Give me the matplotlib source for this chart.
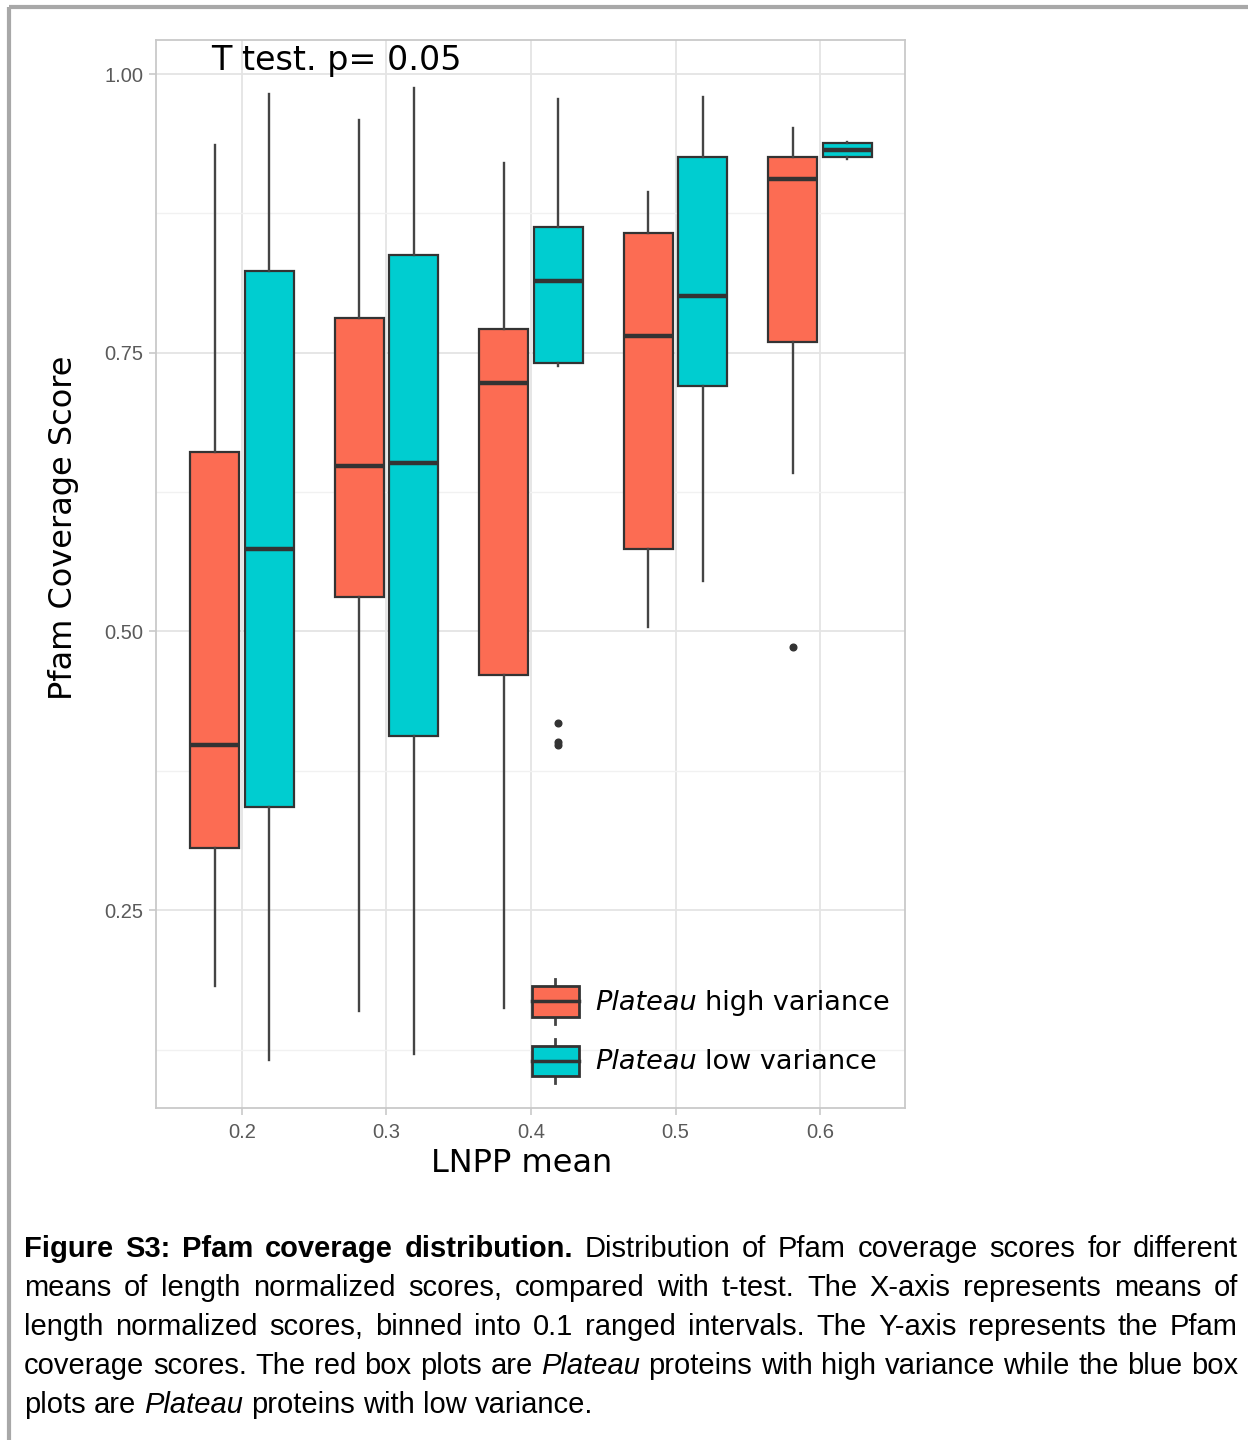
import matplotlib
matplotlib.use("Agg")
import matplotlib.pyplot as plt
from matplotlib.patches import Rectangle, Patch
from matplotlib.lines import Line2D
from matplotlib.legend_handler import HandlerBase
from matplotlib.ticker import FixedLocator

# ---------------- data ----------------
bins = [0.2, 0.3, 0.4, 0.5, 0.6]
tick_labels = ["0.2", "0.3", "0.4", "0.5", "0.6"]

high_whislo = [0.182, 0.160, 0.162, 0.504, 0.642]
high_q1     = [0.306, 0.531, 0.461, 0.574, 0.760]
high_med    = [0.398, 0.648, 0.723, 0.765, 0.906]
high_q3     = [0.661, 0.781, 0.771, 0.857, 0.926]
high_whishi = [0.936, 0.959, 0.920, 0.894, 0.952]
high_fliers = [[], [], [], [], [0.486]]

low_whislo = [0.116, 0.121, 0.738, 0.545, 0.924]
low_q1     = [0.343, 0.406, 0.741, 0.720, 0.926]
low_med    = [0.574, 0.651, 0.814, 0.801, 0.932]
low_q3     = [0.823, 0.838, 0.863, 0.926, 0.938]
low_whishi = [0.982, 0.987, 0.978, 0.979, 0.939]
low_fliers = [[], [], [0.418, 0.401, 0.398], [], []]

series_names = ["Plateau high variance", "Plateau low variance"]
title_text = "T test. p= 0.05"
xlabel_text = "LNPP mean"
ylabel_text = "Pfam Coverage Score"

RED = "#FC6C53"
BLUE = "#00CDD0"
EDGE = "#333333"

# ---------------- figure ----------------
W, H = 1248, 1440
fig = plt.figure(figsize=(W / 100, H / 100), dpi=100)
fig.patch.set_facecolor("white")

ax = fig.add_axes([156 / W, 1 - 1108 / H, 749 / W, 1068 / H])
ax.set_xlim(0.1405, 0.6588)
ax.set_ylim(0.0726, 1.0305)

def stats(whislo, q1, med, q3, whishi, fliers):
    out = []
    for a, b, c, d, e, f in zip(whislo, q1, med, q3, whishi, fliers):
        out.append(dict(whislo=a, q1=b, med=c, q3=d, whishi=e, fliers=f))
    return out

off = 0.0188
bw = 0.034
common = dict(widths=bw, patch_artist=True, showcaps=False, manage_ticks=False,
              medianprops=dict(color=EDGE, lw=3.2, solid_capstyle="butt"),
              whiskerprops=dict(color="#444444", lw=1.7),
              flierprops=dict(marker="o", markersize=4.8, markerfacecolor=EDGE,
                              markeredgecolor=EDGE, linestyle="none"))

ax.bxp(stats(high_whislo, high_q1, high_med, high_q3, high_whishi, high_fliers),
       positions=[b - off for b in bins],
       boxprops=dict(facecolor=RED, edgecolor=EDGE, lw=1.6), **common)
ax.bxp(stats(low_whislo, low_q1, low_med, low_q3, low_whishi, low_fliers),
       positions=[b + off for b in bins],
       boxprops=dict(facecolor=BLUE, edgecolor=EDGE, lw=1.6), **common)

# grid / theme_light look
ax.set_xticks(bins)
ax.set_xticklabels(tick_labels)
ax.yaxis.set_major_locator(FixedLocator([0.25, 0.50, 0.75, 1.00]))
ax.set_yticklabels(["0.25", "0.50", "0.75", "1.00"])
ax.yaxis.set_minor_locator(FixedLocator([0.125, 0.375, 0.625, 0.875]))
ax.grid(True, which="major", color="#E4E4E4", lw=1.3, zorder=0)
ax.grid(True, which="minor", axis="y", color="#F1F1F1", lw=1.0, zorder=0)
ax.set_axisbelow(True)
for s in ax.spines.values():
    s.set_color("#C9C9C9")
    s.set_linewidth(1.3)
ax.tick_params(axis="both", which="major", color="#C9C9C9", length=5, width=1.2,
               labelcolor="#5A5A5A", labelsize=14.5)
ax.tick_params(axis="y", which="minor", length=0)
ax.tick_params(axis="y", pad=4)
ax.tick_params(axis="x", pad=6)
for lab in ax.get_xticklabels() + ax.get_yticklabels():
    lab.set_fontfamily("Liberation Sans")

ax.set_xlabel(xlabel_text, fontsize=23, family="DejaVu Sans", color="black", labelpad=4)
ax.set_ylabel(ylabel_text, fontsize=23, family="DejaVu Sans", color="black", labelpad=18)
ax.xaxis.label.set_x(0.4887)
ax.yaxis.label.set_y(0.543)

ax.text(0.2654, 1.004, title_text, fontsize=24, family="DejaVu Sans",
        ha="center", va="baseline", color="black")

# ---------------- legend with box-plot keys ----------------
class BoxHandler(HandlerBase):
    def __init__(self, face):
        super().__init__()
        self.face = face

    def create_artists(self, legend, orig_handle, xdescent, ydescent, width,
                       height, fontsize, trans):
        x0, y0 = -xdescent, -ydescent
        bh = height * 0.68
        yb = y0 + (height - bh) / 2
        xm = x0 + width / 2
        w1 = Line2D([xm, xm], [y0, yb], color="#444444", lw=2.0, transform=trans)
        w2 = Line2D([xm, xm], [yb + bh, y0 + height], color="#444444", lw=2.0, transform=trans)
        rect = Rectangle((x0, yb), width, bh, facecolor=self.face, edgecolor=EDGE,
                         lw=2.0, transform=trans)
        med = Line2D([x0, x0 + width], [yb + bh / 2] * 2, color=EDGE, lw=2.5,
                     transform=trans)
        return [w1, w2, rect, med]

h_red = Patch(facecolor=RED)
h_blue = Patch(facecolor=BLUE)
LEG_FS = 19.5
leg = ax.legend([h_red, h_blue], ["  ", "  "],
                handler_map={h_red: BoxHandler(RED), h_blue: BoxHandler(BLUE)},
                loc="center left", bbox_to_anchor=(0.502, 0.072), frameon=False,
                borderpad=0, borderaxespad=0, handlelength=1.73,
                handleheight=2.15, labelspacing=0.55, handletextpad=0.6,
                prop={"family": "DejaVu Sans", "size": LEG_FS})

# Legend labels with italic "Plateau" and roman remainder
fig.canvas.draw()
renderer = fig.canvas.get_renderer()
for txt, name in zip(leg.get_texts(), series_names):
    bb = txt.get_window_extent(renderer)
    first, rest = name.split(" ", 1)
    x = bb.x0
    yc = (bb.y0 + bb.y1) / 2
    t1 = fig.text(x / W, yc / H, first, fontsize=LEG_FS, family="DejaVu Sans",
                  style="italic", ha="left", va="center")
    b1 = t1.get_window_extent(renderer)
    fig.text((b1.x1 + 8) / W, yc / H, rest, fontsize=LEG_FS, family="DejaVu Sans",
             ha="left", va="center")

# ---------------- outer border ----------------
fig.add_artist(Line2D([9 / W, 1.0], [1 - 7 / H, 1 - 7 / H], transform=fig.transFigure,
                      color="#A8A8A8", lw=3.0, solid_capstyle="butt"))
fig.add_artist(Line2D([9 / W, 9 / W], [0, 1 - 7 / H], transform=fig.transFigure,
                      color="#A8A8A8", lw=3.0, solid_capstyle="butt"))

# ---------------- justified caption ----------------
caption_lines = [
    [("Figure", "b"), ("S3:", "b"), ("Pfam", "b"), ("coverage", "b"), ("distribution.", "b"),
     ("Distribution", "n"), ("of", "n"), ("Pfam", "n"), ("coverage", "n"), ("scores", "n"),
     ("for", "n"), ("different", "n")],
    [(w, "n") for w in "means of length normalized scores, compared with t-test. The X-axis represents means of".split()],
    [(w, "n") for w in "length normalized scores, binned into 0.1 ranged intervals. The Y-axis represents the Pfam".split()],
    [(w, "n") for w in "coverage scores. The red box plots are".split()] + [("Plateau", "i")]
    + [(w, "n") for w in "proteins with high variance while  the blue box".split()],
    [(w, "n") for w in "plots are".split()] + [("Plateau", "i")]
    + [(w, "n") for w in "proteins with low variance.".split()],
]
cap_left, cap_right = 24, 1238
baselines = [1257, 1296, 1335, 1374, 1413]
cap_size = 21
for li, (words, yb) in enumerate(zip(caption_lines, baselines)):
    arts = []
    for w, st in words:
        kw = dict(fontsize=cap_size, family="Liberation Sans", ha="left", va="baseline",
                  color="black")
        if st == "b":
            kw["weight"] = "bold"
        if st == "i":
            kw["style"] = "italic"
        arts.append(fig.text(0, 1 - yb / H, w, **kw))
    widths = [a.get_window_extent(renderer).width for a in arts]
    if li < len(caption_lines) - 1:
        gap = (cap_right - cap_left - sum(widths)) / (len(arts) - 1)
    else:
        sp = fig.text(0, 0, "a a", fontsize=cap_size, family="Liberation Sans")
        spa = fig.text(0, 0, "aa", fontsize=cap_size, family="Liberation Sans")
        gap = sp.get_window_extent(renderer).width - spa.get_window_extent(renderer).width
        sp.remove(); spa.remove()
    x = cap_left
    for a, wd in zip(arts, widths):
        a.set_x(x / W)
        x += wd + gap

fig.savefig("out.png", dpi=100)
